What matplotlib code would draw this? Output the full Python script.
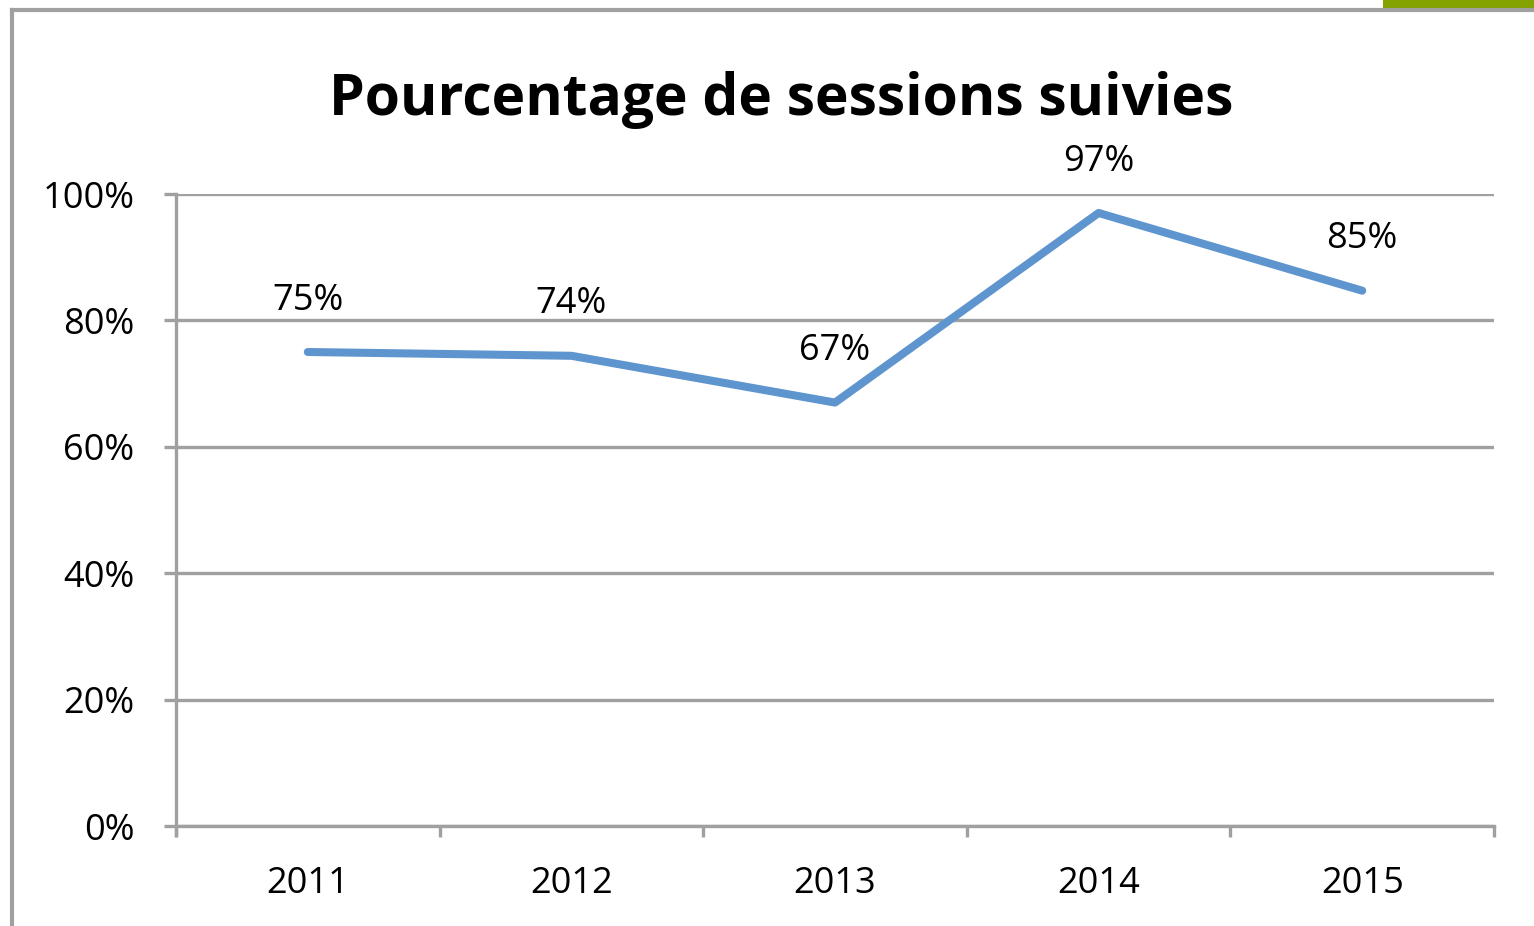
import matplotlib.pyplot as plt
from matplotlib.patches import Rectangle
from matplotlib.lines import Line2D

years = ["2011", "2012", "2013", "2014", "2015"]
values = [0.75, 0.744, 0.67, 0.97, 0.847]
labels = ["75%", "74%", "67%", "97%", "85%"]
yticks = [0, 0.2, 0.4, 0.6, 0.8, 1.0]
ytick_labels = ["0%", "20%", "40%", "60%", "80%", "100%"]

plt.rcParams['font.family'] = ['Open Sans', 'DejaVu Sans']

W, H = 1534, 926
fig = plt.figure(figsize=(W / 100, H / 100), dpi=100)
fig.patch.set_facecolor("white")

# cadre gris et bandeau vert du diaporama
fig.add_artist(Line2D([12 / W, 12 / W], [0, 1 - 10 / H], transform=fig.transFigure,
                      color="#A0A0A0", lw=3))
fig.add_artist(Line2D([12 / W, 1], [1 - 10 / H, 1 - 10 / H], transform=fig.transFigure,
                      color="#A0A0A0", lw=3))
fig.add_artist(Rectangle((1383 / W, 1 - 8 / H), 151 / W, 8 / H, transform=fig.transFigure,
                         color="#84A200", lw=0))

ax = fig.add_axes([176 / W, 1 - 826 / H, (1494 - 176) / W, (826 - 194) / H])
x = list(range(1, len(years) + 1))
ax.plot(x, values, color="#5E95CE", lw=5.8, solid_capstyle="round", zorder=3)
for xi, v, lab in zip(x, values, labels):
    ax.annotate(lab, (xi, v), xytext=(0, 37), textcoords="offset points",
                ha="center", va="center", fontsize=26)

ax.set_xlim(0.5, len(years) + 0.5)
ax.set_ylim(0, 1.0)
ax.set_yticks(yticks)
ax.set_yticklabels(ytick_labels, fontsize=26)
ax.set_xticks(x)
ax.set_xticklabels(years, fontsize=26)
ax.set_xticks([i + 0.5 for i in range(len(years) + 1)], minor=True)
ax.tick_params(axis="x", which="major", length=0, pad=29)
ax.tick_params(axis="x", which="minor", length=8, width=2.4, color="#A0A0A0", direction="out")
ax.tick_params(axis="y", length=9, width=2.4, color="#A0A0A0", pad=21)
ax.grid(axis="y", color="#A0A0A0", lw=2.4)
ax.set_axisbelow(True)
for s in ["top", "right"]:
    ax.spines[s].set_visible(False)
for s in ["left", "bottom"]:
    ax.spines[s].set_color("#A0A0A0")
    ax.spines[s].set_linewidth(2.4)
ax.spines["left"].set_bounds(-0.015, 1.0)

fig.text(781 / W, 1 - 100 / H, "Pourcentage de sessions suivies", ha="center", va="center",
         fontsize=41, fontweight="bold")

fig.savefig("out.png", dpi=100)
